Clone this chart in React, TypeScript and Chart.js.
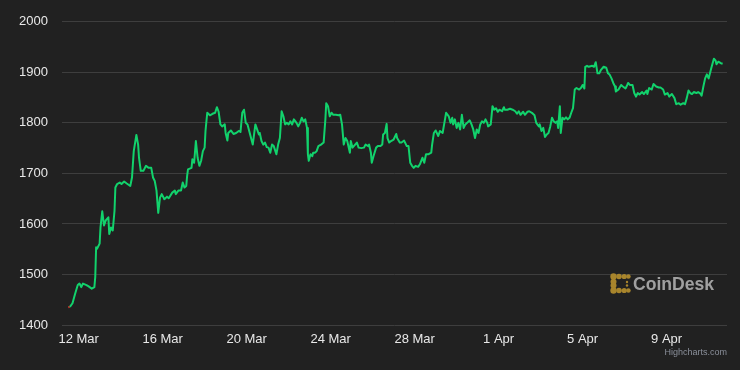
import React, { useEffect, useRef } from 'react';
import { Chart, registerables } from 'chart.js';

Chart.register(...registerables);

// hours since 12 Mar 00:00
const hours = [
  -12, -10, -7, -4, -1, 1, 3, 5, 9, 11, 15, 18, 19, 20, 21, 24, 25, 27, 29, 31, 34, 35, 37, 39, 41, 42, 44, 47, 49, 52, 55,
  59, 61, 63, 66, 68, 69, 71, 74, 77, 80, 83, 85, 87, 89, 91, 93, 95, 98, 101, 103, 107, 110, 111, 114, 117, 119, 121,
  123, 124, 125, 129, 130, 132, 134, 136, 138, 140, 142, 144, 145, 147, 150, 153, 156, 158, 160, 162, 164, 167, 168,
  170, 171, 174, 177, 180, 183, 185, 187, 189, 191, 193, 196, 199, 202, 204, 206, 207, 209, 211, 213, 215, 217, 219,
  221, 223, 226, 228, 230, 232, 234, 236, 238, 240, 242, 244, 246, 249, 251, 253, 255, 257, 259, 261, 262, 263, 265,
  267, 268, 270, 272, 274, 277, 280, 282, 283, 285, 287, 289, 291, 294, 297, 299, 301, 303, 305, 307, 310, 311, 313,
  316, 318, 320, 323, 326, 328, 331, 332, 334, 335, 337, 340, 342, 345, 347, 348, 350, 352, 353, 355, 357, 360, 363,
  364, 367, 369, 372, 375, 377, 379, 381, 383, 385, 388, 390, 393, 395, 397, 400, 403, 404, 406, 408, 411, 413, 416,
  418, 420, 423, 425, 427, 428, 430, 432, 434, 436, 438, 440, 442, 444, 447, 449, 451, 453, 455, 457, 459, 461, 463,
  465, 467, 468, 471, 473, 475, 477, 479, 481, 484, 486, 487, 490, 493, 496, 499, 501, 503, 505, 508, 510, 513, 515,
  518, 521, 523, 526, 527, 529, 531, 533, 535, 537, 539, 541, 543, 545, 547, 548, 550, 551, 553, 555, 557, 559, 561,
  563, 565, 567, 569, 572, 574, 576, 578, 579, 581, 583, 587, 589, 591, 593, 595, 597, 600, 603, 605, 607, 609, 611,
  613, 614, 617, 620, 622, 625, 627, 628, 630, 633, 635, 637, 639, 641, 644, 646, 649, 650, 652, 655, 657, 660, 663,
  665, 668, 670, 673, 675, 678, 681, 683, 686, 688, 691, 693, 695, 697, 699, 701, 703, 706, 708, 710, 712, 714, 716,
  718, 720, 723, 726, 728, 729, 731, 734, 736,
];

const prices = [
  1435, 1436, 1443, 1462, 1479, 1482, 1475, 1482, 1479, 1477, 1472, 1475, 1495, 1554, 1551, 1561, 1593, 1625, 1597, 1607, 1613,
  1580, 1593, 1587, 1626, 1672, 1679, 1682, 1679, 1684, 1680, 1675, 1692, 1744, 1776, 1757, 1731, 1705, 1705, 1715, 1711,
  1711, 1692, 1685, 1666, 1622, 1652, 1659, 1649, 1654, 1651, 1662, 1666, 1659, 1666, 1666, 1682, 1672, 1675, 1695, 1708,
  1711, 1728, 1721, 1764, 1731, 1715, 1725, 1744, 1751, 1784, 1820, 1815, 1818, 1820, 1831, 1822, 1797, 1793, 1797, 1780,
  1765, 1780, 1785, 1778, 1780, 1784, 1782, 1820, 1826, 1800, 1797, 1777, 1757, 1797, 1787, 1777, 1780, 1764, 1757, 1761,
  1752, 1751, 1741, 1757, 1754, 1738, 1757, 1770, 1823, 1813, 1797, 1800, 1797, 1803, 1797, 1807, 1800, 1793, 1800, 1810,
  1803, 1807, 1790, 1738, 1725, 1738, 1734, 1741, 1741, 1744, 1754, 1757, 1761, 1807, 1839, 1833, 1813, 1820, 1816, 1816,
  1815, 1816, 1797, 1757, 1770, 1764, 1741, 1764, 1751, 1757, 1761, 1751, 1750, 1751, 1757, 1754, 1757, 1741, 1721, 1734,
  1751, 1754, 1754, 1757, 1777, 1780, 1798, 1770, 1761, 1764, 1767, 1778, 1770, 1761, 1761, 1765, 1754, 1754, 1721, 1715,
  1711, 1715, 1713, 1718, 1731, 1721, 1738, 1738, 1741, 1757, 1780, 1785, 1774, 1784, 1780, 1800, 1820, 1813, 1800, 1810,
  1797, 1807, 1790, 1800, 1787, 1816, 1790, 1797, 1800, 1805, 1797, 1787, 1770, 1787, 1780, 1797, 1803, 1800, 1807, 1800,
  1793, 1797, 1833, 1826, 1829, 1822, 1826, 1823, 1831, 1826, 1826, 1828, 1826, 1823, 1818, 1823, 1816, 1822, 1816, 1822,
  1823, 1820, 1815, 1800, 1793, 1797, 1784, 1790, 1772, 1777, 1780, 1793, 1810, 1803, 1800, 1803, 1790, 1833, 1780, 1810,
  1807, 1811, 1807, 1810, 1820, 1829, 1866, 1869, 1866, 1869, 1875, 1868, 1911, 1913, 1911, 1913, 1911, 1920, 1898, 1898,
  1905, 1911, 1909, 1898, 1895, 1888, 1879, 1872, 1862, 1866, 1875, 1872, 1868, 1875, 1879, 1875, 1875, 1859, 1852, 1859,
  1856, 1861, 1857, 1864, 1857, 1869, 1866, 1877, 1872, 1870, 1870, 1866, 1856, 1859, 1852, 1857, 1849, 1837, 1839, 1836,
  1839, 1837, 1849, 1864, 1859, 1857, 1861, 1859, 1861, 1859, 1854, 1872, 1888, 1896, 1888, 1908, 1927, 1923, 1916, 1921,
  1918, 1917,
];

const xTickHours = [0, 96, 192, 288, 384, 480, 576, 672];
const xTickLabels = ['12 Mar', '16 Mar', '20 Mar', '24 Mar', '28 Mar', '1 Apr', '5 Apr', '9 Apr'];
const yTickValues = [1400, 1500, 1600, 1700, 1800, 1900, 2000];

const BG = '#212121';
const GREEN = '#12d26c';
const FONT = '"Liberation Sans", Arial, Helvetica, sans-serif';

export default function App() {
  const canvasRef = useRef<HTMLCanvasElement | null>(null);

  useEffect(() => {
    document.body.style.margin = '0';
    document.body.style.background = BG;
    const canvas = canvasRef.current;
    if (!canvas) return;
    const points = hours.map((h, i) => ({ x: h, y: prices[i] }));
    const chart = new Chart(canvas, {
      type: 'line',
      data: {
        datasets: [
          {
            data: points,
            borderColor: GREEN,
            borderWidth: 2,
            pointRadius: 0,
            tension: 0,
            borderJoinStyle: 'round',
            segment: {
              borderColor: (ctx: any) => (ctx.p0DataIndex === 0 ? '#b3342a' : GREEN),
            },
          },
        ],
      },
      options: {
        animation: false,
        responsive: false,
        maintainAspectRatio: false,
        layout: { padding: { left: 0, right: 13, top: 20, bottom: 0 } },
        plugins: { legend: { display: false }, tooltip: { enabled: false } },
        scales: {
          x: {
            type: 'linear',
            min: -19,
            max: 741,
            afterFit: (s: any) => {
              s.height = 45;
            },
            afterBuildTicks: (s: any) => {
              s.ticks = xTickHours.map((v) => ({ value: v }));
            },
            grid: { display: false, drawTicks: false },
            border: { display: false },
            ticks: {
              autoSkip: false,
              maxRotation: 0,
              padding: 7,
              color: '#e8e8e8',
              font: { family: FONT, size: 13 },
              callback: (v: any) => {
                const i = xTickHours.indexOf(Number(v));
                return i >= 0 ? xTickLabels[i] : '';
              },
            },
          },
          y: {
            min: 1400,
            max: 2000,
            afterFit: (s: any) => {
              s.width = 62;
            },
            afterBuildTicks: (s: any) => {
              s.ticks = yTickValues.map((v) => ({ value: v }));
            },
            grid: { color: '#3e3e3e', lineWidth: 1, drawTicks: false },
            border: { display: false },
            ticks: {
              padding: 14,
              color: '#e8e8e8',
              font: { family: FONT, size: 13 },
              callback: (v: any) => String(v),
            },
          },
        },
      },
    });
    return () => chart.destroy();
  }, []);

  return (
    <div style={{ position: 'relative', width: 740, height: 370, background: BG, overflow: 'hidden' }}>
      <canvas ref={canvasRef} width={740} height={370} style={{ display: 'block', width: 740, height: 370 }} />
      <div style={{ position: 'absolute', left: 610, top: 273, width: 21, height: 21 }}>
        <svg width="21" height="21" viewBox="0 0 21 21">
          <g fill="#a8852c">
            <circle cx="3.5" cy="3.5" r="3.2" />
            <circle cx="9" cy="3.5" r="2.8" />
            <circle cx="14.2" cy="3.5" r="2.6" />
            <circle cx="18.4" cy="3.5" r="2.3" />
            <circle cx="3.5" cy="8.7" r="3" />
            <circle cx="3.5" cy="12.5" r="3" />
            <circle cx="3.5" cy="17.5" r="3.2" />
            <circle cx="9" cy="17.5" r="2.8" />
            <circle cx="14.2" cy="17.5" r="2.6" />
            <circle cx="18.4" cy="17.5" r="2.3" />
            <circle cx="17" cy="9" r="1.2" />
            <circle cx="17" cy="12.5" r="1.2" />
          </g>
        </svg>
      </div>
      <div
        style={{
          position: 'absolute',
          left: 633,
          top: 273,
          fontFamily: FONT,
          fontWeight: 'bold',
          fontSize: 17.6,
          lineHeight: '22px',
          color: '#a0a0a0',
        }}
      >
        CoinDesk
      </div>
      <div
        style={{
          position: 'absolute',
          right: 13,
          top: 346,
          fontFamily: FONT,
          fontSize: 9,
          lineHeight: '12px',
          color: '#8a8f9a',
        }}
      >
        Highcharts.com
      </div>
    </div>
  );
}
